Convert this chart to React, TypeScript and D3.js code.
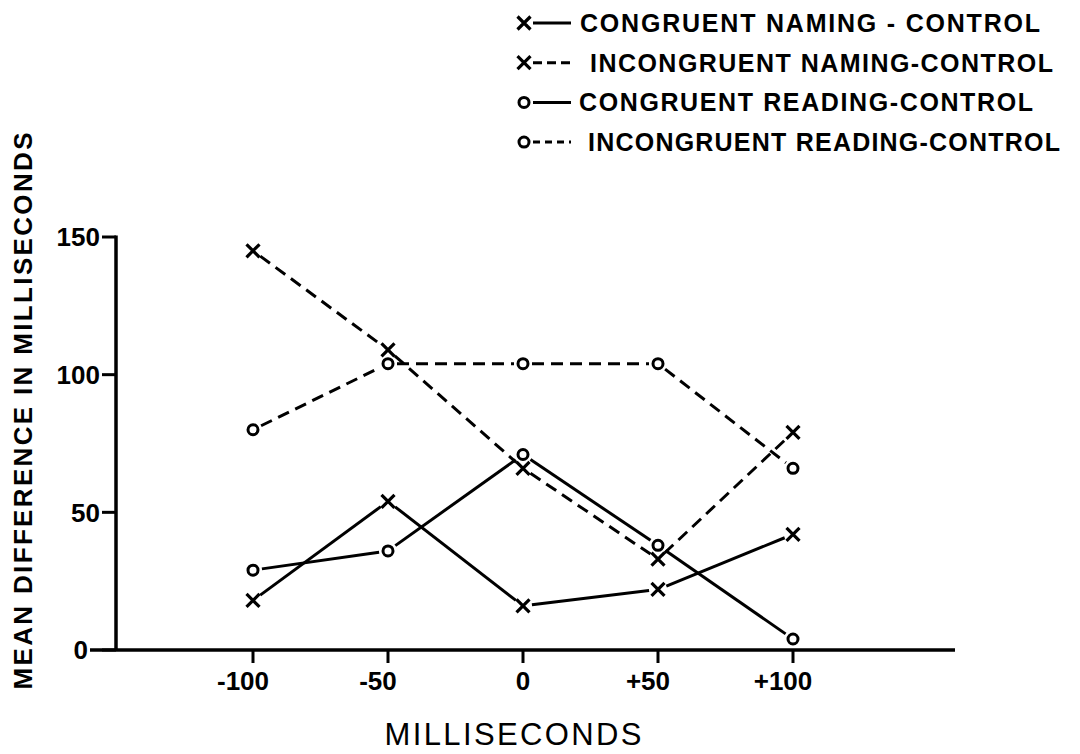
import * as d3 from "d3";

// x positions (SOA, ms) and tick labels
const milliseconds = [-100, -50, 0, 50, 100];
const xTickLabels = ["-100", "-50", "0", "+50", "+100"];
const yTicks = [0, 50, 100, 150];

// mean difference (ms) per condition
const congruentNaming = [18, 54, 16, 22, 42];
const incongruentNaming = [145, 109, 66, 33, 79];
const congruentReading = [29, 36, 71, 38, 4];
const incongruentReading = [80, 104, 104, 104, 66];

const seriesLabels = [
  "CONGRUENT  NAMING - CONTROL",
  "INCONGRUENT NAMING-CONTROL",
  "CONGRUENT READING-CONTROL",
  "INCONGRUENT READING-CONTROL",
];

type Series = {
  label: string;
  values: number[];
  marker: "x" | "o";
  dashed: boolean;
};

const series: Series[] = [
  { label: seriesLabels[0], values: congruentNaming, marker: "x", dashed: false },
  { label: seriesLabels[1], values: incongruentNaming, marker: "x", dashed: true },
  { label: seriesLabels[2], values: congruentReading, marker: "o", dashed: false },
  { label: seriesLabels[3], values: incongruentReading, marker: "o", dashed: true },
];

// legend text placement (x start, length) – lettering is widely spaced
const legendText = [
  { x: 580, len: 460 },
  { x: 590, len: 463 },
  { x: 579, len: 454 },
  { x: 588, len: 472 },
];

const W = 1080;
const H = 754;
const axisLeft = 116;
const axisRight = 955;
const font = "'Liberation Sans', Arial, sans-serif";

const x = d3.scaleLinear().domain([-100, 100]).range([253, 793]);
const y = d3.scaleLinear().domain([0, 150]).range([650, 237]);

function Marker({ kind, cx, cy }: { kind: "x" | "o"; cx: number; cy: number }) {
  if (kind === "o") {
    return <circle cx={cx} cy={cy} r={5} fill="none" stroke="#000" strokeWidth={3} />;
  }
  const s = 6.5;
  return (
    <path
      d={`M${cx - s},${cy - s}L${cx + s},${cy + s}M${cx - s},${cy + s}L${cx + s},${cy - s}`}
      stroke="#000"
      strokeWidth={3.2}
      fill="none"
    />
  );
}

// segments stop short of the markers, like the hand drawn original
function segments(values: number[], gap: number) {
  const pts = values.map((v, i) => [x(milliseconds[i]), y(v)] as [number, number]);
  return d3.pairs(pts).map(([a, b]) => {
    const dx = b[0] - a[0];
    const dy = b[1] - a[1];
    const len = Math.hypot(dx, dy);
    const ux = dx / len;
    const uy = dy / len;
    return [a[0] + ux * gap, a[1] + uy * gap, b[0] - ux * gap, b[1] - uy * gap];
  });
}

export default function App() {
  return (
    <svg
      width={W}
      height={H}
      style={{ position: "absolute", left: 0, top: 0, background: "#fff" }}
    >
      {/* axes */}
      <line x1={axisLeft} x2={axisLeft} y1={y(150) - 1.5} y2={y(0)} stroke="#000" strokeWidth={3.5} />
      <line x1={axisLeft - 26} x2={axisRight} y1={y(0)} y2={y(0)} stroke="#000" strokeWidth={3.5} />

      {yTicks.map((t) => (
        <g key={t}>
          <line x1={axisLeft - 14} x2={axisLeft} y1={y(t)} y2={y(t)} stroke="#000" strokeWidth={3} />
          <text
            x={axisLeft - (t === 0 ? 28 : 16)}
            y={y(t)}
            dy="0.36em"
            textAnchor="end"
            fontFamily={font}
            fontWeight="bold"
            fontSize={26}
          >
            {t}
          </text>
        </g>
      ))}

      {milliseconds.map((m, i) => (
        <g key={m}>
          <line x1={x(m)} x2={x(m)} y1={y(0)} y2={y(0) + 13} stroke="#000" strokeWidth={3} />
          <text
            x={x(m)}
            dx={/^[-+]/.test(xTickLabels[i]) ? -10 : 0}
            y={690}
            textAnchor="middle"
            fontFamily={font}
            fontWeight="bold"
            fontSize={26}
          >
            {xTickLabels[i]}
          </text>
        </g>
      ))}

      <text
        x={513}
        y={745}
        textAnchor="middle"
        fontFamily={font}
        fontSize={31}
        textLength={257}
        lengthAdjust="spacing"
      >
        MILLISECONDS
      </text>

      <text
        transform={`translate(32,411) rotate(-90)`}
        textAnchor="middle"
        fontFamily={font}
        fontWeight="bold"
        fontSize={26}
        textLength={557}
        lengthAdjust="spacing"
      >
        MEAN  DIFFERENCE  IN  MILLISECONDS
      </text>

      {/* data */}
      {series.map((s) => (
        <g key={s.label}>
          {segments(s.values, 9).map(([x1, y1, x2, y2], j) => (
            <line
              key={j}
              x1={x1}
              y1={y1}
              x2={x2}
              y2={y2}
              stroke="#000"
              strokeWidth={3}
              strokeDasharray={s.dashed ? "12 7" : undefined}
            />
          ))}
          {s.values.map((v, j) => (
            <Marker key={j} kind={s.marker} cx={x(milliseconds[j])} cy={y(v)} />
          ))}
        </g>
      ))}

      {/* legend */}
      {series.map((s, i) => {
        const base = 32 + i * 39.7;
        const my = base - 9;
        return (
          <g key={s.label}>
            <Marker kind={s.marker} cx={524} cy={my} />
            <line
              x1={533}
              x2={571}
              y1={my}
              y2={my}
              stroke="#000"
              strokeWidth={3}
              strokeDasharray={s.dashed ? (s.marker === "x" ? "9 5" : "7 5") : undefined}
            />
            <text
              x={legendText[i].x}
              y={base}
              fontFamily={font}
              fontWeight="bold"
              fontSize={25}
              textLength={legendText[i].len}
              lengthAdjust="spacing"
            >
              {s.label}
            </text>
          </g>
        );
      })}
    </svg>
  );
}
